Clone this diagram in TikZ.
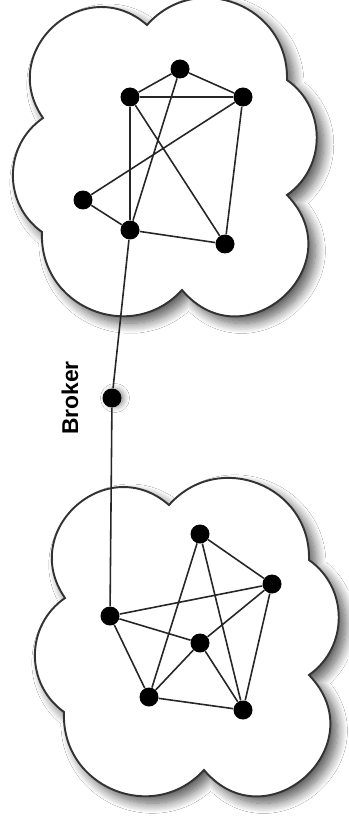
\documentclass[tikz,border=0pt]{standalone}
\usepackage{fontspec}
\newfontfamily\labelfont{Liberation Sans}
\usetikzlibrary{positioning,shadows.blur}

\begin{document}
\begin{tikzpicture}[x=0.02cm,y=-0.02cm,
  puffcloud/.pic={
    \draw[line width=1.1pt,draw=black!80,fill=white,
      blur shadow={shadow xshift=0.14cm,shadow yshift=-0.14cm,shadow blur radius=0.2cm,shadow blur steps=12,shadow opacity=65}]
      (147,25) to[bend left=70,looseness=1.27] (287,80)
      to[bend left=55,looseness=1.08] (287,195)
      to[bend left=92,looseness=1.76] (182,290)
      to[bend left=70,looseness=1.27] (42,232)
      to[bend left=55,looseness=1.08] (43,118)
      to[bend left=83,looseness=1.51] (147,25) -- cycle;
  }]
  \tikzstyle{peer}=[circle,fill=black,inner sep=0pt,minimum size=0.38cm]
  \tikzstyle{link}=[line width=0.9pt,black!85]
  \tikzstyle{tag}=[inner sep=0pt,font=\labelfont\bfseries\fontsize{13}{15}\selectfont]
  \fill[white] (0,0) rectangle (348,817);
  \useasboundingbox (0,0) rectangle (348,817);
  % the two groups
  \pic at (0,0) {puffcloud};
  \pic at (22,480) {puffcloud};
  % upper group
  \node[peer] (t1) at (180,69) {};
  \node[peer] (t2) at (130,97) {};
  \node[peer] (t3) at (243,97) {};
  \node[peer] (t4) at (83,200) {};
  \node[peer] (t5) at (130,230) {};
  \node[peer] (t6) at (225,244) {};
  % lower group
  \node[peer] (b1) at (200,534) {};
  \node[peer] (b2) at (272,584) {};
  \node[peer] (b3) at (110,616) {};
  \node[peer] (b4) at (200,643) {};
  \node[peer] (b5) at (149,697) {};
  \node[peer] (b6) at (243,710) {};
  % broker between them
  \node[peer,blur shadow={shadow xshift=0.06cm,shadow yshift=0cm,shadow blur radius=0.1cm,shadow opacity=40}] (broker) at (112,398) {};
  \node[tag,rotate=90,anchor=south] (brokertag) at ([xshift=-0.47cm]broker.west) {Broker};
  \draw[link] (t1) -- (t2) (t1) -- (t3) (t2) -- (t3) (t1) -- (t5) (t2) -- (t5)
    (t2) -- (t6) (t3) -- (t4) (t3) -- (t6) (t4) -- (t5) (t5) -- (t6);
  \draw[link] (b1) -- (b2) (b1) -- (b5) (b1) -- (b6) (b2) -- (b3) (b2) -- (b4)
    (b2) -- (b6) (b3) -- (b4) (b3) -- (b5) (b4) -- (b5) (b4) -- (b6) (b5) -- (b6);
  \draw[link] (t5) -- (broker) -- (b3);
\end{tikzpicture}
\end{document}
